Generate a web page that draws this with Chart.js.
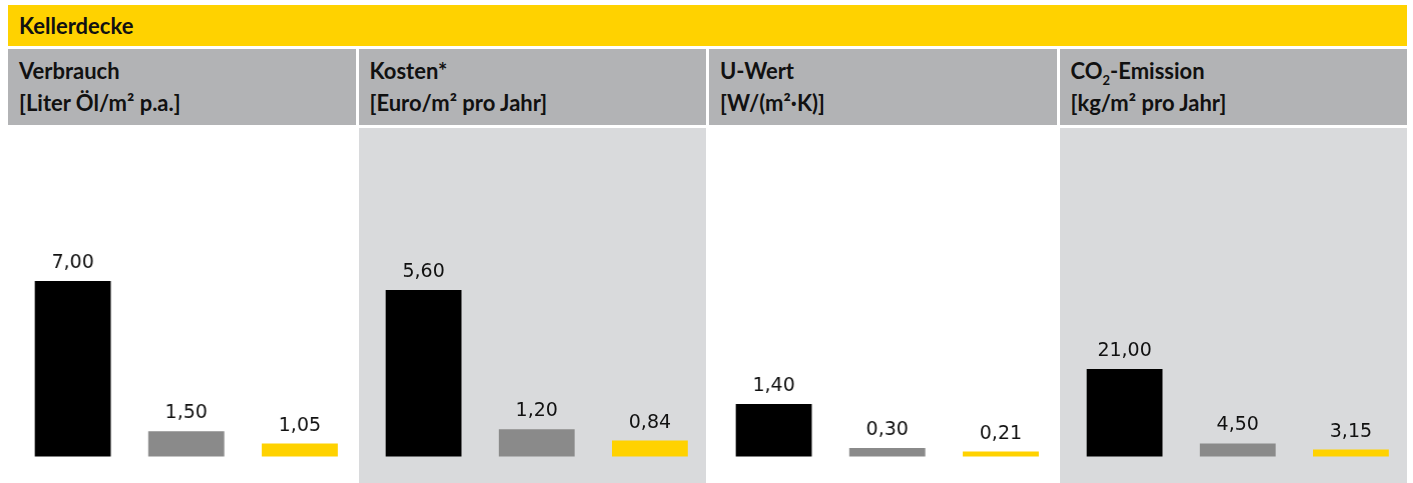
<!DOCTYPE html>
<html lang="de">
<head>
<meta charset="utf-8">
<title>Kellerdecke</title>
<script src="https://cdn.jsdelivr.net/npm/chart.js@4.4.1/dist/chart.umd.min.js"></script>
<style>
  html, body { margin: 0; padding: 0; background: #fff; overflow: hidden; }
  #wrap { position: absolute; left: 8px; top: 5px; width: 1399px; }
  .title {
    height: 41px; background: #ffd200;
    font: bold 22px Lato, sans-serif; line-height: 41px; color: #111; padding-left: 11px;
  }
  .panels { display: flex; gap: 3px; margin-top: 3px; }
  .panel { flex: 1 1 0; min-width: 0; }
  .head {
    height: 76px; box-sizing: border-box; background: #b2b3b5;
    padding: 5.5px 0 0 11px; font: bold 22px Lato, sans-serif; line-height: 32px; color: #111;
    white-space: nowrap;
  }
  .head sub { font-size: 13px; line-height: 0; vertical-align: -6px; }
  .body { margin-top: 3px; height: 355px; position: relative; width: 100%; }
  .body.shade { background: #d9dadc; }
</style>
</head>
<body>
<div id="wrap">
  <div class="title">Kellerdecke</div>
  <div class="panels" id="panels"></div>
</div>
<script>
// Werte pro Kennzahl: schwarz / grau / gelb
var panelTitles = ['Verbrauch', 'Kosten*', 'U-Wert', 'CO<sub>2</sub>-Emission'];
var panelUnits  = ['[Liter Öl/m² p.a.]', '[Euro/m² pro Jahr]', '[W/(m²·K)]', '[kg/m² pro Jahr]'];
var variants    = ['A', 'B', 'C'];

var verbrauch = [7.00, 1.50, 1.05];
var kosten    = [5.60, 1.20, 0.84];
var uwert     = [1.40, 0.30, 0.21];
var co2       = [21.00, 4.50, 3.15];

// Achsenbereich je Feld
var axisMin = [0.574, 0.334, 0.085, 1.60];
var axisMax = [12.61, 10.73, 8.32, 74.44];

var barColors = ['#000000', '#8a8a8a', '#ffd200'];
var series = [verbrauch, kosten, uwert, co2];

var valueLabels = {
  id: 'valueLabels',
  afterDatasetsDraw: function(chart) {
    var ctx = chart.ctx;
    var ds = chart.data.datasets[0];
    var meta = chart.getDatasetMeta(0);
    ctx.save();
    ctx.font = '19px "DejaVu Sans", sans-serif';
    ctx.fillStyle = '#111';
    ctx.textAlign = 'center';
    ctx.textBaseline = 'alphabetic';
    for (var i = 0; i < meta.data.length; i++) {
      var bar = meta.data[i];
      ctx.fillText(ds.data[i].toFixed(2).replace('.', ','), bar.x, bar.y - 13);
    }
    ctx.restore();
  }
};

var holder = document.getElementById('panels');
for (var p = 0; p < series.length; p++) {
  var panel = document.createElement('div');
  panel.className = 'panel';
  panel.innerHTML = '<div class="head">' + panelTitles[p] + '<br>' + panelUnits[p] + '</div>' +
    '<div class="body' + (p % 2 == 1 ? ' shade' : '') + '"><canvas id="c' + p + '"></canvas></div>';
  holder.appendChild(panel);
}

for (var p = 0; p < series.length; p++) {
  new Chart(document.getElementById('c' + p), {
    type: 'bar',
    data: {
      labels: variants,
      datasets: [{ data: series[p], backgroundColor: barColors, borderWidth: 0,
                   barPercentage: 0.67, categoryPercentage: 1 }]
    },
    options: {
      responsive: true, maintainAspectRatio: false, animation: false,
      layout: { padding: { left: 8, right: 0, top: 0, bottom: 26.5 } },
      plugins: { legend: { display: false }, tooltip: { enabled: false } },
      scales: {
        x: { display: false },
        y: { display: false, min: axisMin[p], max: axisMax[p] }
      }
    },
    plugins: [valueLabels]
  });
}
</script>
</body>
</html>
